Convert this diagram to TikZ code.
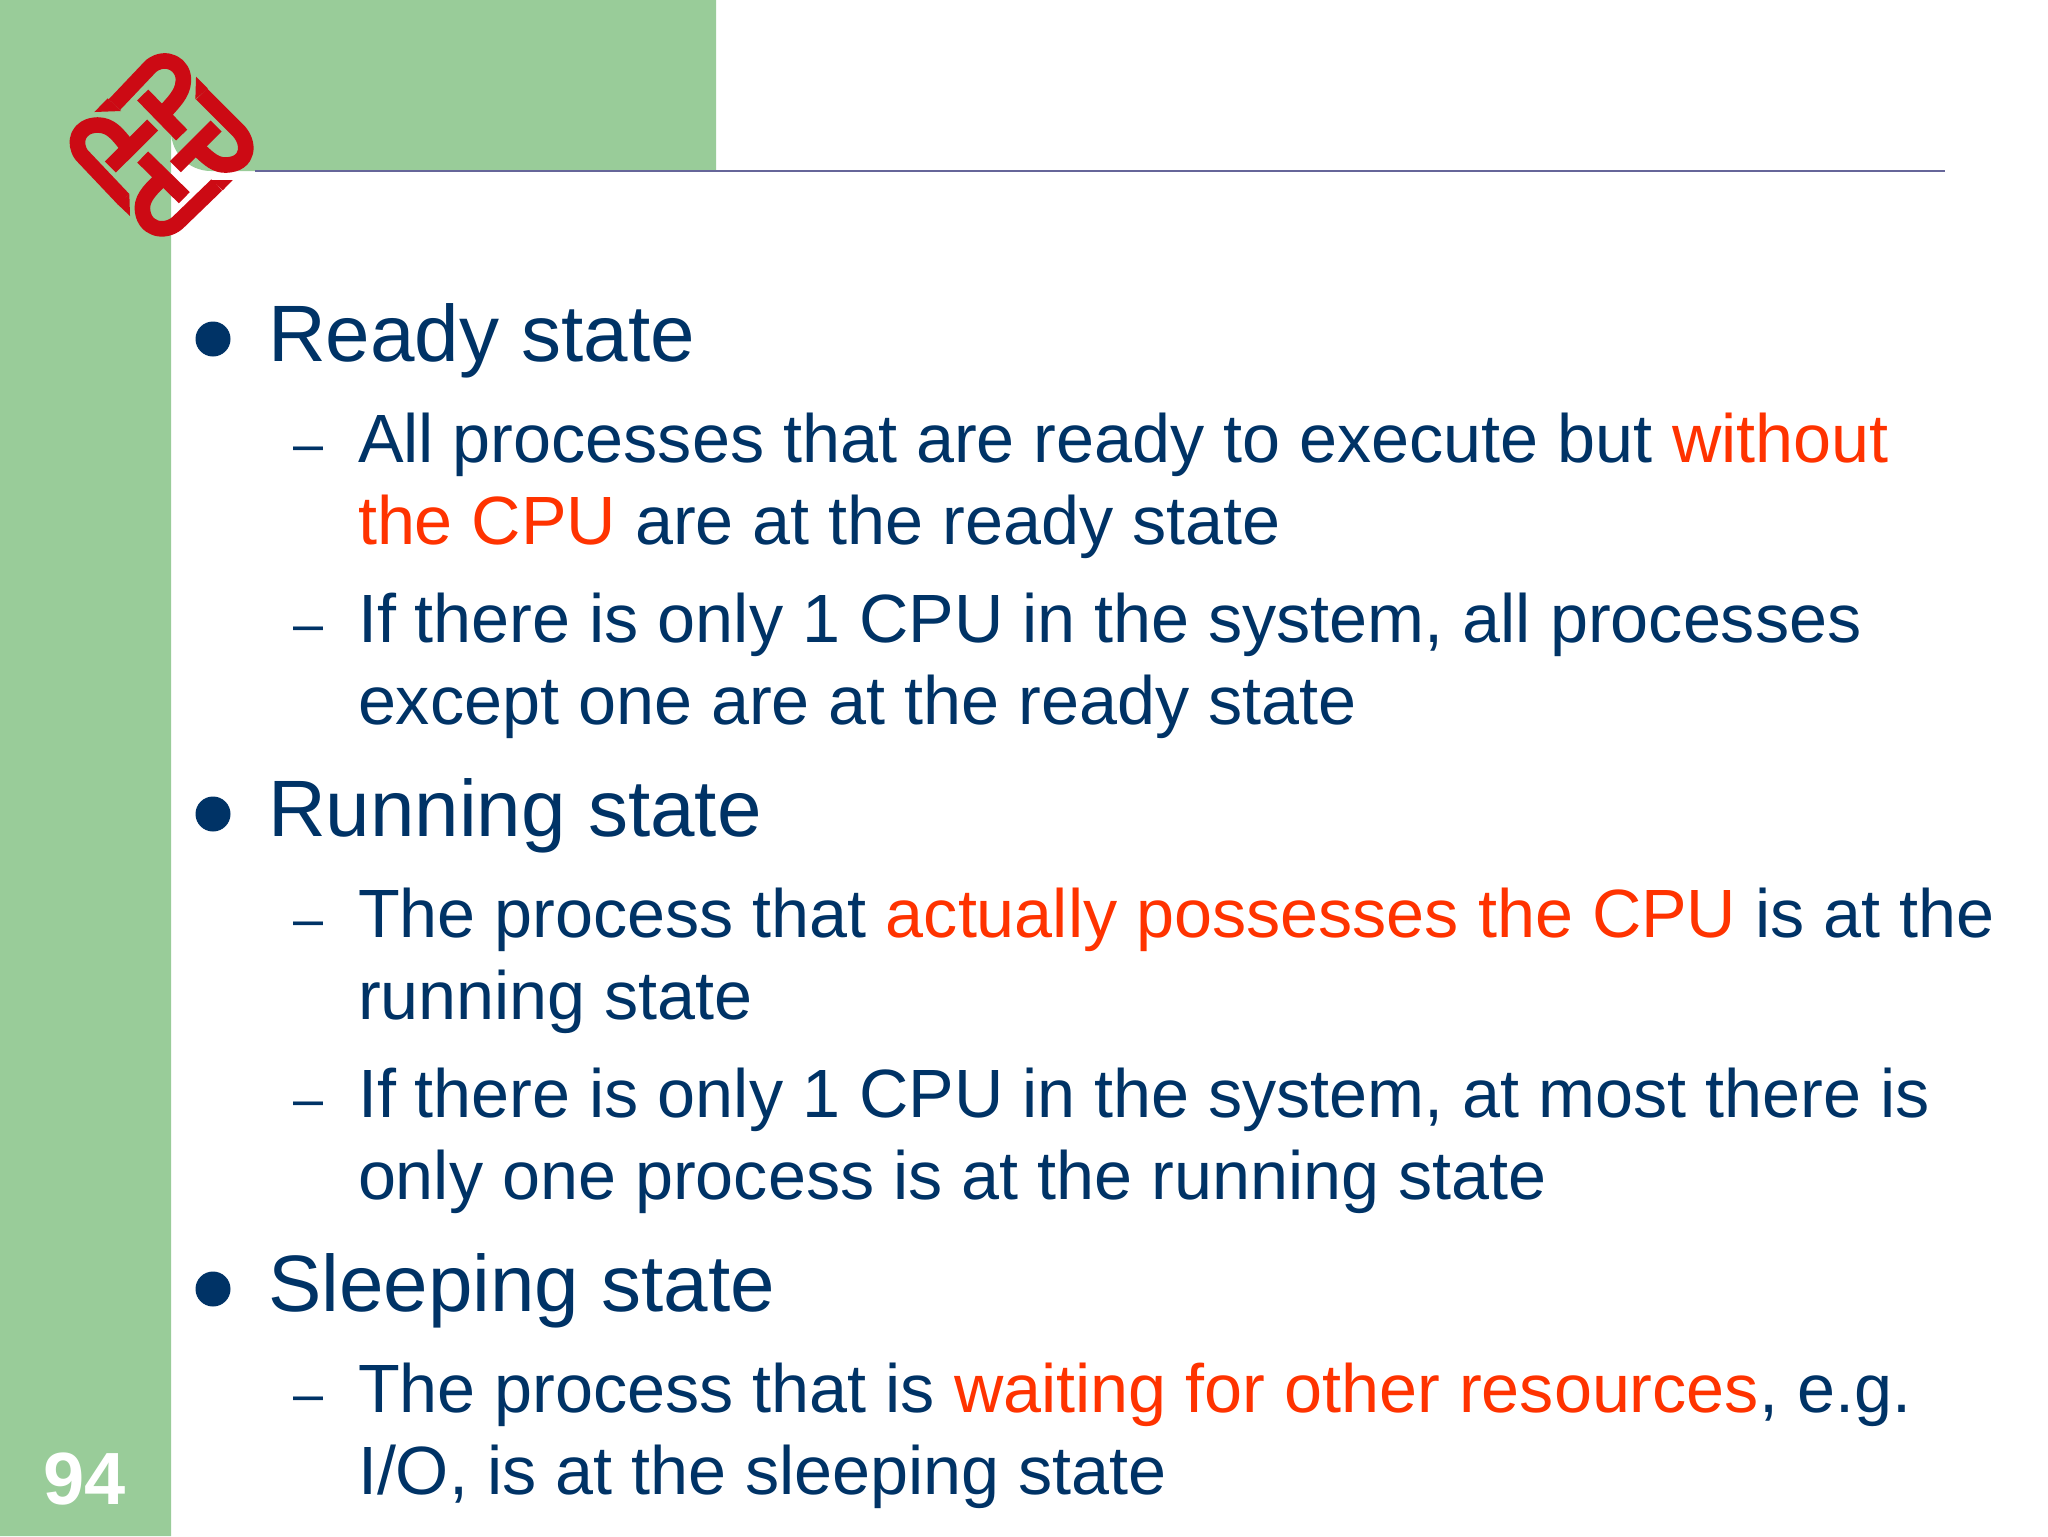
\documentclass[tikz,border=0pt]{standalone}
\usepackage{fontspec}
\setmainfont{Liberation Sans}
\definecolor{navy}{HTML}{003366}
\definecolor{hot}{HTML}{FF3300}
\definecolor{sage}{HTML}{99CC99}
\definecolor{rulec}{HTML}{666699}
\definecolor{logored}{HTML}{CC0A14}
\tikzset{
 x=0.5pt,y=-0.5pt,
 lone/.style={anchor=base west,inner sep=0pt,outer sep=0pt,text=navy,font=\fontsize{40}{40}\selectfont},
 ltwo/.style={anchor=base west,inner sep=0pt,outer sep=0pt,text=navy,font=\fontsize{34.16}{34.16}\selectfont},
 dashmark/.style={anchor=base west,inner sep=0pt,outer sep=0pt,text=navy,font=\fontsize{27}{27}\selectfont},
 dot/.style={circle,fill=navy,inner sep=0pt,minimum size=17.5pt},
 logostroke/.style={draw=logored,line width=7.8pt,line cap=butt,line join=round},
 logotip/.style={fill=logored,draw=none},
}
\newcommand{\hl}[1]{\textcolor{hot}{#1}}
\begin{document}
\begin{tikzpicture}
\useasboundingbox (0,0) rectangle (2048,1536);
\fill[white] (0,0) rectangle (2048,1536);
\fill[sage] (0,0) -- (716,0) -- (716,171) -- (211,171) arc[start angle=90,end angle=180,radius=40] -- (171,1536) -- (0,1536) -- cycle;
\coordinate (rs) at (255,171);
\coordinate (re) at (1945,171);
\draw[rulec,line width=1pt] (rs) -- (re);
% logo
\begin{scope}[shift={(41,31)},x=0.1667pt,y=-0.1667pt]
 \draw[logostroke] (220,221) -- (330,105) .. controls (375,70) and (430,100) .. (427,150) .. controls (425,190) and (395,215) .. (370,245);
 \draw[logostroke] (305,192) -- (422,312);
 \fill[logotip] (160,243) -- (240,240) -- (200,202) -- cycle;
 \draw[logostroke] (482,189) -- (590,297) .. controls (628,335) and (625,400) .. (555,402) .. controls (525,403) and (505,385) .. (478,360);
 \draw[logostroke] (525,285) -- (403,407);
 \fill[logotip] (465,137) -- (463,205) -- (500,172) -- cycle;
 \draw[logostroke] (248,505) -- (122,372) .. controls (95,335) and (110,283) .. (170,282) .. controls (210,282) and (230,310) .. (258,345);
 \draw[logostroke] (335,282) -- (208,408);
 \fill[logotip] (267,555) -- (265,490) -- (228,518) -- cycle;
 \draw[logostroke] (527,462) -- (410,575) .. controls (370,610) and (305,595) .. (304,530) .. controls (305,495) and (335,470) .. (365,440);
 \draw[logostroke] (305,378) -- (430,500);
 \fill[logotip] (575,447) -- (510,447) -- (545,478) -- cycle;
\end{scope}
% page number
\node[inner sep=0pt,text=white,anchor=base,font=\fontsize{37}{37}\selectfont\bfseries] (num) at (85,1504) {94};
% bullets
\node[dot] (b1) at (213,339) {};
\node[dot] (b2) at (213,814) {};
\node[dot] (b3) at (213,1289) {};
% level one
\node[lone] (h1) at (268,361) {Ready state};
\node[lone] (h2) at (268,836) {Running state};
\node[lone] (h3) at (268,1311) {Sleeping state};
% dashes
\foreach \n/\y in {a/462,b/642,c/937,d/1117,e/1412}{
 \node[dashmark] (d\n) at (293,\y) {–};
}
% level two
\node[ltwo] (t1) at (358,462) {All processes that are ready to execute but \hl{without}};
\node[ltwo] (t2) at (358,544) {\hl{the CPU} are at the ready state};
\node[ltwo] (t3) at (358,642) {If there is only 1 CPU in the system, all processes};
\node[ltwo] (t4) at (358,724) {except one are at the ready state};
\node[ltwo] (t5) at (358,937) {The process that \hl{actually possesses the CPU} is at the};
\node[ltwo] (t6) at (358,1019) {running state};
\node[ltwo] (t7) at (358,1117) {If there is only 1 CPU in the system, at most there is};
\node[ltwo] (t8) at (358,1199) {only one process is at the running state};
\node[ltwo] (t9) at (358,1412) {The process that is \hl{waiting for other resources}, e.g.};
\node[ltwo] (t10) at (358,1494) {I/O, is at the sleeping state};
\end{tikzpicture}
\end{document}
